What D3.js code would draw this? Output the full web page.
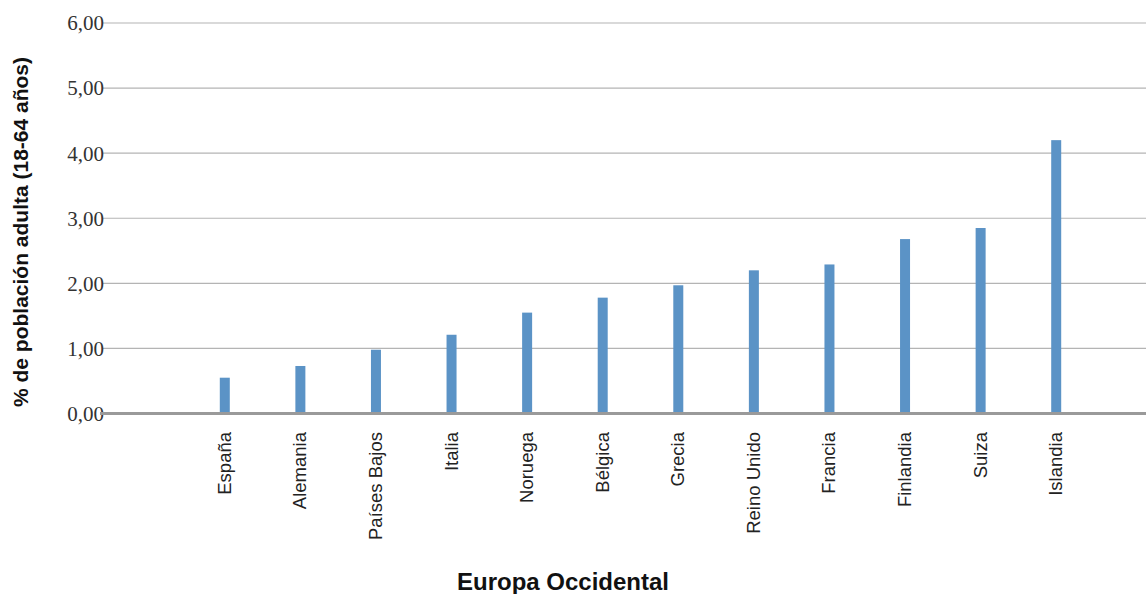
<!DOCTYPE html>
<html>
<head>
<meta charset="utf-8">
<script src="https://cdn.jsdelivr.net/npm/d3@7"></script>
<style>
	body { margin: 0; background: #fff; }
	svg { display: block; }
	.tick { font-family: 'Liberation Serif', 'DejaVu Serif', 'Times New Roman', serif; }
</style>
</head>
<body>
<svg width="1146" height="594"></svg>
<script>
	let paises = ['España', 'Alemania', 'Países Bajos', 'Italia', 'Noruega', 'Bélgica',
		'Grecia', 'Reino Unido', 'Francia', 'Finlandia', 'Suiza', 'Islandia']
	let valores = [0.55, 0.73, 0.98, 1.21, 1.55, 1.78, 1.97, 2.2, 2.29, 2.68, 2.85, 4.2]
	let ticks = [0, 1, 2, 3, 4, 5, 6]

	let svg = d3.select('svg')

	let scX = d3.scaleBand()
	.domain(paises)
	.range([187, 1094])

	let scY = d3.scaleLinear()
	.domain([0, 6])
	.range([413.5, 23])

	let fmt = d => d3.format('.2f')(d).replace('.', ',')

	// gridlines
	svg.append('g')
	.selectAll('line')
	.data(ticks.filter(t => t > 0)).enter()
	.append('line')
	.attr('x1', 103).attr('x2', 1146)
	.attr('y1', d => scY(d)).attr('y2', d => scY(d))
	.attr('stroke', '#b4b4b4')
	.attr('stroke-width', 1.2)

	// tick labels
	svg.append('g')
	.selectAll('text')
	.data(ticks).enter()
	.append('text')
	.attr('class', 'tick')
	.attr('x', 104)
	.attr('y', d => scY(d))
	.attr('dy', '0.35em')
	.attr('text-anchor', 'end')
	.attr('font-size', 21)
	.attr('fill', '#333')
	.text(fmt)

	// bars
	svg.append('g')
	.selectAll('rect')
	.data(paises).enter()
	.append('rect')
	.attr('x', d => scX(d) + scX.bandwidth() / 2 - 5)
	.attr('width', 10)
	.attr('y', (d, i) => scY(valores[i]))
	.attr('height', (d, i) => scY(0) - scY(valores[i]))
	.attr('fill', '#5b93c6')

	// baseline
	svg.append('line')
	.attr('x1', 100).attr('x2', 1146)
	.attr('y1', scY(0)).attr('y2', scY(0))
	.attr('stroke', '#9a9a9a')
	.attr('stroke-width', 3)

	// category labels
	svg.append('g')
	.selectAll('text')
	.data(paises).enter()
	.append('text')
	.attr('transform', d => `translate(${scX(d) + scX.bandwidth() / 2 + 6}, 432) rotate(-90)`)
	.attr('text-anchor', 'end')
	.attr('font-family', 'Liberation Sans, Arial, sans-serif')
	.attr('font-size', 18.5)
	.attr('fill', '#222')
	.text(d => d)

	// axis titles
	svg.append('text')
	.attr('transform', 'translate(28, 232) rotate(-90)')
	.attr('text-anchor', 'middle')
	.attr('font-family', 'Liberation Sans, Arial, sans-serif')
	.attr('font-weight', 'bold')
	.attr('font-size', 21)
	.attr('fill', '#111')
	.text('% de población adulta (18-64 años)')

	svg.append('text')
	.attr('x', 563)
	.attr('y', 590)
	.attr('text-anchor', 'middle')
	.attr('font-family', 'Liberation Sans, Arial, sans-serif')
	.attr('font-weight', 'bold')
	.attr('font-size', 24)
	.attr('fill', '#111')
	.text('Europa Occidental')
</script>
</body>
</html>
